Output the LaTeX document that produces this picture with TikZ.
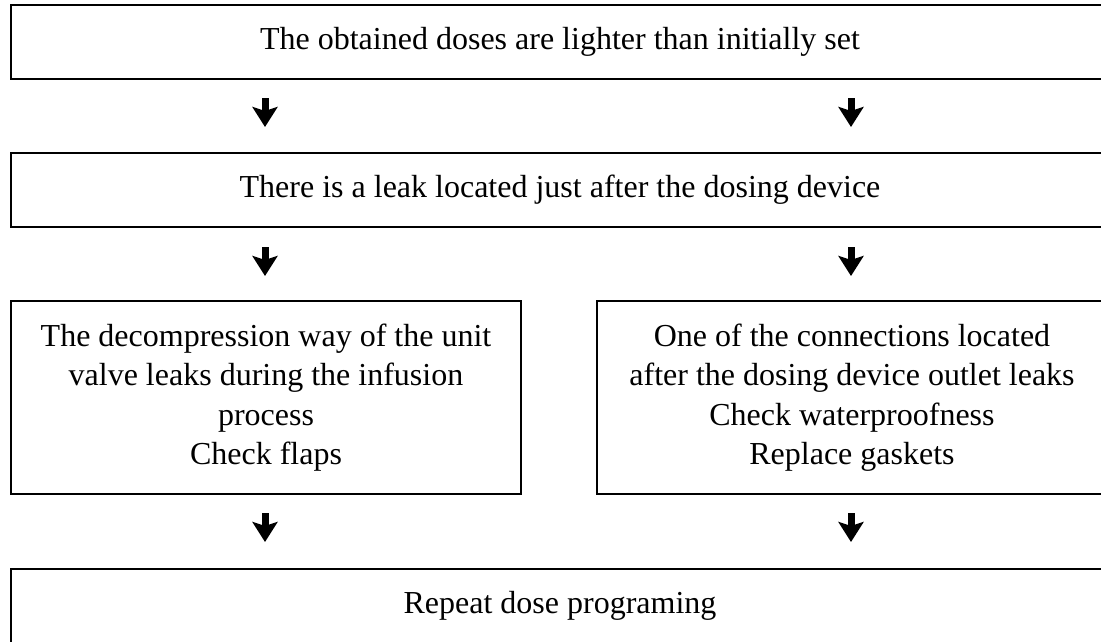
\documentclass[tikz,border=0pt]{standalone}
\usepackage{fontspec}
\setmainfont{Liberation Serif}
\usetikzlibrary{arrows.meta}
\tikzset{
  box/.style={draw=black, line width=2pt, rectangle, inner sep=0pt, align=center,
    font=\fontsize{32}{39.5}\selectfont},
  downarrow/.style={line width=7pt, -{Stealth[length=20pt, width=25pt, inset=4pt]}}
}
\begin{document}
\begin{tikzpicture}[x=1pt, y=-1pt]
\useasboundingbox (0,0) rectangle (1101,641);
\clip (0,0) rectangle (1101,641);
\node[box, minimum width=1098pt, minimum height=74pt] (top) at (560,42)
  {The obtained doses are lighter than initially set};
\node[box, minimum width=1098pt, minimum height=74pt] (leak) at (560,190)
  {There is a leak located just after the dosing device};
\node[box, minimum width=510pt, minimum height=193pt] (left) at (266,397.5)
  {The decompression way of the unit\\valve leaks during the infusion\\process\\Check flaps};
\node[box, minimum width=510pt, minimum height=193pt] (right) at (852,397.5)
  {One of the connections located\\after the dosing device outlet leaks\\Check waterproofness\\Replace gaskets};
\node[box, minimum width=1098pt, minimum height=74pt] (repeat) at (560,606)
  {Repeat dose programing};
% arrows
\coordinate (a1s) at (265,98);  \coordinate (a1e) at (265,127);
\coordinate (a2s) at (851,98);  \coordinate (a2e) at (851,127);
\coordinate (a3s) at (265,247); \coordinate (a3e) at (265,276);
\coordinate (a4s) at (851,247); \coordinate (a4e) at (851,276);
\coordinate (a5s) at (265,513); \coordinate (a5e) at (265,542);
\coordinate (a6s) at (851,513); \coordinate (a6e) at (851,542);
\foreach \i in {1,...,6} {\draw[downarrow] (a\i s) -- (a\i e);}
\end{tikzpicture}
\end{document}
